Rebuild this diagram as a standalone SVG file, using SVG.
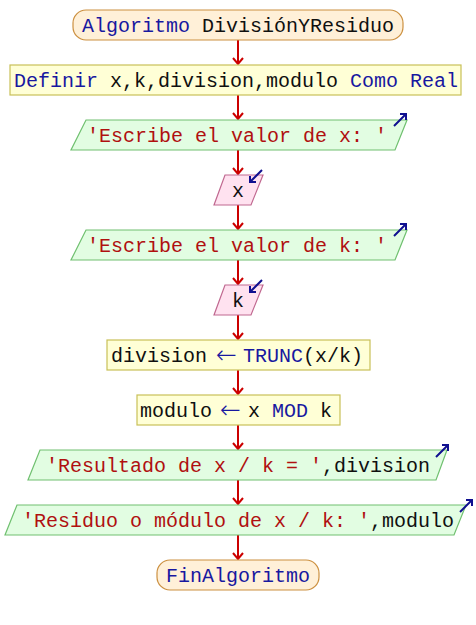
<svg xmlns="http://www.w3.org/2000/svg" width="476" height="625" viewBox="0 0 476 625">
<defs>
<style>
text{font-family:"Liberation Mono","Courier New",monospace;font-size:20px;text-anchor:middle}
text.l{text-anchor:start}
.arr{font-family:"DejaVu Sans",sans-serif;font-size:25px;font-weight:200}
.kw{fill:#1818a0}
.id{fill:#101010}
.st{fill:#b01010}
.term{fill:#fff0d8;stroke:#cc9040;stroke-width:1.2}
.proc{fill:#ffffd6;stroke:#c8c058;stroke-width:1.2}
.out{fill:#e2fde2;stroke:#70c070;stroke-width:1.2}
.inp{fill:#ffe2f0;stroke:#c06890;stroke-width:1.2}
.con{stroke:#cc0000;stroke-width:2;fill:none}
.ico{stroke:#101090;stroke-width:2;fill:none}
</style>
</defs>
<g id="connectors">
<path class="con" d="M238,40V64M233,58L238,64L243,58"/>
<path class="con" d="M238,95V119M233,113L238,119L243,113"/>
<path class="con" d="M238,150V174M233,168L238,174L243,168"/>
<path class="con" d="M238,205V229M233,223L238,229L243,223"/>
<path class="con" d="M238,260V284M233,278L238,284L243,278"/>
<path class="con" d="M238,315V339M233,333L238,339L243,333"/>
<path class="con" d="M238,370V394M233,388L238,394L243,388"/>
<path class="con" d="M238,425V449M233,443L238,449L243,443"/>
<path class="con" d="M238,480V504M233,498L238,504L243,498"/>
<path class="con" d="M238,535V559M233,553L238,559L243,553"/>
</g>
<g id="start">
<rect class="term" x="73" y="10" width="330" height="30" rx="13"/>
<text x="238" y="32"><tspan class="kw">Algoritmo</tspan><tspan class="id"> DivisiónYResiduo</tspan></text>
</g>
<g id="define">
<rect class="proc" x="10" y="65" width="451" height="30"/>
<text x="236" y="87"><tspan class="kw">Definir</tspan><tspan class="id"> x,k,division,modulo </tspan><tspan class="kw">Como Real</tspan></text>
</g>
<g id="out1">
<polygon class="out" points="86,120 407,120 395,150 71,150"/>
<text x="237" y="142" class="st">'Escribe el valor de x: '</text>
<path class="ico" d="M394,126L406,114M400,114H406V120"/>
</g>
<g id="in1">
<polygon class="inp" points="225,175 263,175 251,205 214,205"/>
<text x="238" y="197" class="id">x</text>
<path class="ico" d="M262,170L250,182M250,176V182H256"/>
</g>
<g id="out2">
<polygon class="out" points="86,230 407,230 395,260 71,260"/>
<text x="237" y="252" class="st">'Escribe el valor de k: '</text>
<path class="ico" d="M394,236L406,224M400,224H406V230"/>
</g>
<g id="in2">
<polygon class="inp" points="225,285 263,285 251,315 214,315"/>
<text x="238" y="307" class="id">k</text>
<path class="ico" d="M262,280L250,292M250,286V292H256"/>
</g>
<g id="assign1">
<rect class="proc" x="107" y="340" width="263" height="30"/>
<text class="l" y="362"><tspan x="111" class="id">division</tspan><tspan x="216" y="363" class="kw arr">←</tspan><tspan x="243" y="362" class="kw">TRUNC</tspan><tspan class="id">(x/k)</tspan></text>
</g>
<g id="assign2">
<rect class="proc" x="137" y="395" width="203" height="30"/>
<text class="l" y="417"><tspan x="140" class="id">modulo</tspan><tspan x="220" y="418" class="kw arr">←</tspan><tspan x="248" y="417" class="id">x </tspan><tspan class="kw">MOD</tspan><tspan class="id"> k</tspan></text>
</g>
<g id="out3">
<polygon class="out" points="40,450 447,450 436,480 28,480"/>
<text x="238" y="472"><tspan class="st">'Resultado de x / k = '</tspan><tspan class="id">,division</tspan></text>
<path class="ico" d="M436,457L448,445M442,445H448V451"/>
</g>
<g id="out4">
<polygon class="out" points="17,505 466,505 454,535 5,535"/>
<text x="238" y="527"><tspan class="st">'Residuo o módulo de x / k: '</tspan><tspan class="id">,modulo</tspan></text>
<path class="ico" d="M460,512L472,500M466,500H472V506"/>
</g>
<g id="end">
<rect class="term" x="157" y="560" width="162" height="30" rx="13"/>
<text x="238" y="582" class="kw">FinAlgoritmo</text>
</g>
</svg>
